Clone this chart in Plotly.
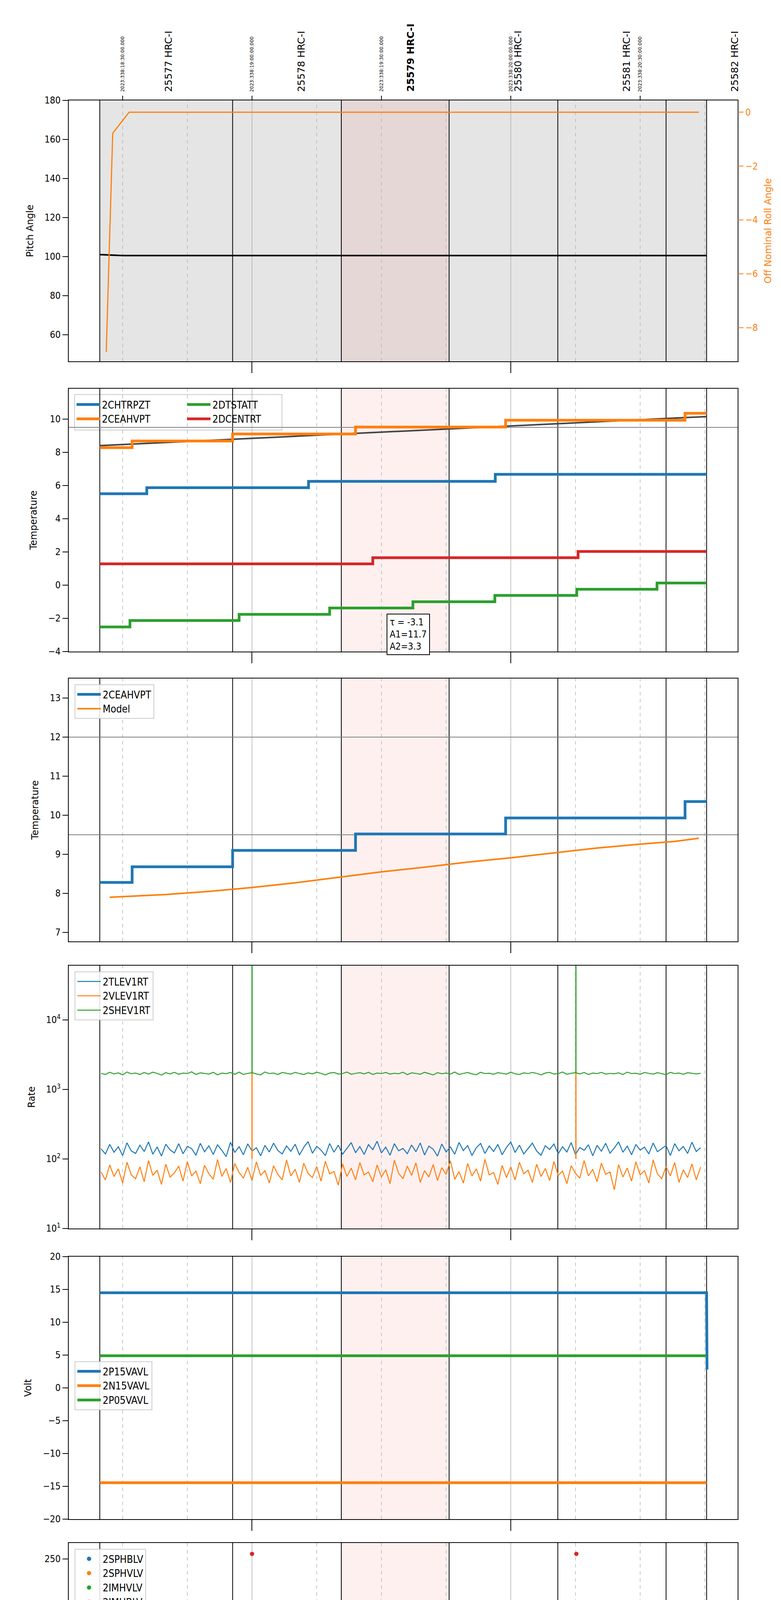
import plotly.graph_objects as go

# ---------------- data (time in minutes after 13:00 local) ----------------
OBS_BOUNDS = [24.7, 55.5, 80.7, 105.7, 130.9, 156.0, 165.4]
FOCUS = [80.7, 105.7]
HOUR_LINES = [60, 120]
QUARTER_LINES = [30, 45, 75, 90, 105, 135, 150, 165]
OBS_LABEL_T = [40.6, 71.4, 96.7, 121.6, 146.8, 171.9]
OBS_LABELS = ["25577 HRC-I", "25578 HRC-I", "25579 HRC-I", "25580 HRC-I", "25581 HRC-I", "25582 HRC-I"]
DATE_T = [30, 60, 90, 120, 150]
DATE_LABELS = ["2023:338:18:30:00.000", "2023:338:19:00:00.000", "2023:338:19:30:00.000",
               "2023:338:20:00:00.000", "2023:338:20:30:00.000"]
MIN_T = [30, 45, 75, 90, 105, 135, 150, 165]
MIN_LABELS = ["30", "45", "15", "30", "45", "15", "30", "45"]

PITCH_T = [24.7, 30, 60, 90, 120, 150, 165.4]
PITCH_V = [101.0, 100.5, 100.5, 100.6, 100.5, 100.5, 100.5]
ROLL_T = [26.2, 27.7, 31.5, 60, 90, 120, 150, 163.6]
ROLL_V = [-8.9, -0.78, 0.0, 0.0, 0.0, 0.0, 0.0, 0.0]

CHTRPZT_T = [24.7, 35.6, 73.1, 116.4, 165.4]
CHTRPZT_V = [5.5, 5.87, 6.25, 6.67, 6.67]
CEAHVPT_T = [24.7, 32.2, 55.5, 84.0, 118.8, 160.4, 165.4]
CEAHVPT_V = [8.28, 8.68, 9.1, 9.52, 9.93, 10.35, 10.35]
DTSTATT_T = [24.7, 31.7, 57.0, 78.0, 97.3, 116.3, 135.3, 153.9, 165.4]
DTSTATT_V = [-2.52, -2.13, -1.76, -1.38, -1.0, -0.62, -0.25, 0.13, 0.13]
DCENTRT_T = [24.7, 88.0, 135.6, 165.4]
DCENTRT_V = [1.28, 1.65, 2.03, 2.03]
TREND_T = [24.7, 165.4]
TREND_V = [8.4, 10.15]

MODEL_T = [27, 40, 50, 60, 70, 80, 90, 100, 110, 120, 130, 140, 150, 158, 163.6]
MODEL_V = [7.9, 7.97, 8.05, 8.15, 8.27, 8.41, 8.55, 8.67, 8.8, 8.91, 9.04, 9.16, 9.26, 9.33, 9.41]

TLEV = [140, 118, 162, 125, 150, 112, 171, 131, 120, 158, 128, 176, 117, 149, 110, 163, 135, 122, 166, 119,
        152, 141, 113, 168, 127, 155, 116, 160, 133, 108, 174, 124, 150, 115, 165, 130, 145, 111, 157, 126,
        169, 132, 118, 154, 129, 163, 114, 147, 178, 121, 152, 134, 112, 167, 125, 158, 117, 143, 172, 123,
        151, 116, 161, 136, 180, 122, 148, 113, 166, 131, 142, 119, 159, 127, 170, 114, 153, 138, 110, 164,
        126, 149, 117, 173, 132, 156, 112, 145, 167, 120, 154, 128, 162, 115, 147, 175, 124, 158, 118, 141,
        169, 130, 113, 155, 137, 164, 119, 150, 126, 172, 116, 146, 133, 160, 111, 157, 129, 168, 121, 144,
        176, 125, 153, 115, 162, 134, 148, 118, 170, 127, 141, 156, 112, 166, 131, 151, 120, 174, 128, 145]
VLEV = [65, 50, 82, 56, 72, 45, 90, 59, 52, 77, 47, 95, 58, 69, 43, 84, 55, 63, 79, 48,
        92, 57, 67, 44, 81, 61, 51, 98, 56, 73, 46, 86, 64, 53, 76, 49, 91, 58, 68, 45,
        80, 60, 50, 97, 57, 71, 46, 87, 62, 54, 78, 48, 93, 61, 66, 42, 85, 56, 74, 50,
        89, 59, 65, 47, 82, 55, 70, 44, 96, 62, 52, 79, 58, 88, 46, 68, 55, 83, 49, 75,
        60, 94, 51, 66, 45, 86, 57, 72, 48, 99, 59, 64, 43, 81, 54, 77, 50, 90, 61, 69,
        46, 84, 56, 73, 49, 92, 58, 67, 44, 80, 62, 53, 95, 57, 71, 47, 87, 60, 65, 36,
        83, 55, 74, 48, 91, 59, 68, 45, 97, 61, 52, 78, 57, 89, 46, 70, 54, 85, 50, 76]
SHEV = [1700, 1640, 1760, 1670, 1730, 1620, 1780, 1680, 1720, 1640, 1750, 1660, 1770, 1700, 1610, 1740, 1670, 1760, 1650, 1720,
        1690, 1790, 1640, 1730, 1700, 1660, 1760, 1620, 1720, 1680, 1750, 1650, 1770, 1640, 1700, 1740, 1670, 1620, 1780, 1690,
        1720, 1640, 1750, 1700, 1660, 1760, 1690, 1640, 1730, 1670, 1770, 1700, 1620, 1720, 1750, 1660, 1690, 1780, 1650, 1700,
        1740, 1670, 1760, 1640, 1720, 1690, 1750, 1660, 1710, 1680, 1770, 1630, 1730, 1700, 1650, 1760, 1690, 1620, 1740, 1680,
        1720, 1660, 1780, 1640, 1700, 1750, 1670, 1630, 1760, 1690, 1710, 1650, 1740, 1700, 1660, 1770, 1680, 1640, 1730, 1690,
        1750, 1700, 1620, 1720, 1760, 1660, 1690, 1780, 1650, 1710, 1740, 1670, 1750, 1640, 1720, 1690, 1760, 1660, 1700, 1680,
        1730, 1640, 1770, 1690, 1710, 1650, 1750, 1700, 1660, 1740, 1680, 1630, 1760, 1690, 1720, 1650, 1740, 1700, 1670, 1710]
RATE_T = [25 + i for i in range(len(TLEV))]
RATE_SPIKE_T = [60.0, 135.1]
SHEV_SPIKE_TOP = 60000
VLEV_SPIKE_TOP = 1700

P15_T = [24.7, 165.0, 165.4, 165.5]
P15_V = [14.5, 14.5, 14.5, 2.8]
N15_T = [24.7, 165.4]
N15_V = [-14.45, -14.45]
P05_T = [24.7, 165.4]
P05_V = [4.9, 4.9]

HV_T = [25 + i for i in range(141)]
HV_RED_LEVEL = 86.1
HV_GREEN_LEVEL = 79.3
HV_OUT_T = [60.0, 135.2]
HV_OUT_V = [255, 255]

SPINATM_T = [24.7, 66.8, 154.1, 165.4]
SPINATM_V = [4.1, 4.57, 5.05, 5.05]
SPHVATM_T = [24.7, 46.4, 73.9, 102.1, 134.6, 165.4]
SPHVATM_V = [16.7, 16.95, 17.25, 17.55, 17.82, 17.82]
IMINATM_T = [24.7, 67.5, 126.5, 165.4]
IMINATM_V = [1.9, 2.33, 2.77, 2.77]
IMHVATM_T = [24.7, 25.3, 32.7, 41.5, 52.2, 59.8, 60.0, 64.4, 79.5, 97.3, 120.4, 135.3, 135.5, 148.5, 165.4]
IMHVATM_V = [16.7, 16.9, 17.2, 17.5, 17.8, 0.0, 17.8, 18.1, 18.4, 18.68, 18.97, 0.0, 18.97, 19.25, 19.25]

FHTRMZT_T = [24.7, 30.2, 38.4, 47.9, 58.4, 68.7, 79.3, 90.5, 101.9, 114.0, 126.5, 139.0, 152.8, 165.4]
FHTRMZT_V = [-3.67, -3.27, -2.9, -2.5, -2.12, -1.75, -1.38, -1.0, -0.62, -0.25, 0.13, 0.5, 0.88, 0.88]
FRADPYT_T = [24.7, 26.0, 30.5, 36.8, 63.7, 79.0, 92.8, 107.0, 120.8, 134.9, 150.3, 165.4]
FRADPYT_V = [-4.05, -3.67, -4.05, -4.43, -4.05, -3.67, -3.28, -2.9, -2.5, -2.13, -1.75, -1.75]
FEPRATM_T = [24.7, 26.5, 32.3, 38.4, 46.1, 54.9, 65.0, 76.0, 88.2, 101.2, 114.9, 129.2, 144.8, 160.7, 165.4]
FEPRATM_V = [-1.42, -1.02, -0.6, -0.2, 0.2, 0.62, 1.05, 1.48, 1.93, 2.35, 2.8, 3.25, 3.68, 4.13, 4.13]
FE00ATM_T = [24.7, 25.9, 30.5, 36.6, 42.7, 42.9, 44.1, 51.8, 58.6, 59.8, 60.0, 62.2, 62.4, 67.7, 70.2, 70.4,
             75.8, 84.3, 86.1, 86.3, 87.4, 87.6, 88.0, 88.2, 93.2, 94.0, 94.2, 101.9, 111.8, 121.3, 123.5, 123.7,
             126.9, 127.1, 131.4, 135.0, 135.2, 140.7, 140.9, 141.0, 152.3, 162.5, 165.4]
FE00ATM_V = [-1.12, -0.8, -0.47, -0.15, 0.2, -0.15, 0.17, 0.48, 0.78, -6.0, 0.78, 0.1, 0.78, 1.1, 1.45, 1.1,
             1.43, 1.73, 1.35, 1.73, 0.75, 1.73, 2.05, 1.73, 2.05, 2.35, 2.05, 2.35, 2.65, 2.95, 2.6, 2.95,
             3.6, 2.95, 3.25, -6.0, 3.25, 3.55, 3.25, 3.55, 3.85, 4.12, 4.12]

# ---------------- layout helpers ----------------
W, H = 2000, 6200
ML, MR, MT, MB = 168, 119, 249, 106
PW, PH = W - ML - MR, H - MT - MB
PANELS = [(249, 917), (987, 1660), (1729, 2402), (2464, 3137), (3209, 3881), (3942, 4617), (4687, 5359), (5421, 6094)]
XR = [17.5, 172.6]


def py(p):
    return (H - MB - p) / PH


def pxx(p):
    return (p - ML) / PW


C = ["#1f77b4", "#ff7f0e", "#2ca02c", "#d62728"]
TICKFONT = dict(family="DejaVu Sans Condensed, DejaVu Sans", size=24, color="black")
TITLEFONT = dict(family="DejaVu Sans", size=24, color="black")
LEGFONT = dict(family="DejaVu Sans Condensed, DejaVu Sans", size=26, color="black")

fig = go.Figure()


def step(x, y, name, color, ax, leg, width=7, shape="hv", show=True):
    fig.add_trace(go.Scatter(x=x, y=y, mode="lines", name=name, line=dict(color=color, width=width, shape=shape),
                             xaxis="x" + ("" if ax == 1 else str(ax)), yaxis="y" + ("" if ax == 1 else str(ax)),
                             legend=leg, showlegend=show))


# panel 1
fig.add_trace(go.Scatter(x=PITCH_T, y=PITCH_V, mode="lines", line=dict(color="black", width=4), showlegend=False,
                         xaxis="x", yaxis="y"))
fig.add_trace(go.Scatter(x=ROLL_T, y=ROLL_V, mode="lines", line=dict(color=C[1], width=3), showlegend=False,
                         xaxis="x", yaxis="y9"))
# panel 2
fig.add_trace(go.Scatter(x=TREND_T, y=TREND_V, mode="lines", line=dict(color="#444444", width=4), showlegend=False,
                         xaxis="x2", yaxis="y2"))
step(CHTRPZT_T, CHTRPZT_V, "2CHTRPZT", C[0], 2, "legend2")
step(CEAHVPT_T, CEAHVPT_V, "2CEAHVPT", C[1], 2, "legend2")
step(DTSTATT_T, DTSTATT_V, "2DTSTATT", C[2], 2, "legend9")
step(DCENTRT_T, DCENTRT_V, "2DCENTRT", C[3], 2, "legend9")
# panel 3
step(CEAHVPT_T, CEAHVPT_V, "2CEAHVPT", C[0], 3, "legend3")
step(MODEL_T, MODEL_V, "Model", C[1], 3, "legend3", width=4, shape="linear")
# panel 4
step(RATE_T, TLEV, "2TLEV1RT", C[0], 4, "legend4", width=2.5, shape="linear")
step(RATE_T, VLEV, "2VLEV1RT", C[1], 4, "legend4", width=2.5, shape="linear")
step(RATE_T, SHEV, "2SHEV1RT", C[2], 4, "legend4", width=2.5, shape="linear")
for t in RATE_SPIKE_T:
    step([t, t], [100, VLEV_SPIKE_TOP], "spike", C[1], 4, "legend4", width=3, shape="linear", show=False)
    step([t, t], [1700, SHEV_SPIKE_TOP], "spike", C[2], 4, "legend4", width=3, shape="linear", show=False)
# panel 5
step(P15_T, P15_V, "2P15VAVL", C[0], 5, "legend5", shape="linear")
step(N15_T, N15_V, "2N15VAVL", C[1], 5, "legend5")
step(P05_T, P05_V, "2P05VAVL", C[2], 5, "legend5")
# panel 6
hv_sets = [("2SPHBLV", C[0], HV_GREEN_LEVEL, [], []), ("2SPHVLV", C[1], HV_RED_LEVEL, [], []),
           ("2IMHVLV", C[2], HV_GREEN_LEVEL, [], []), ("2IMHBLV", C[3], HV_RED_LEVEL, HV_OUT_T, HV_OUT_V)]
for name, col, lvl, ot, ov in hv_sets:
    fig.add_trace(go.Scatter(x=HV_T + ot, y=[lvl] * len(HV_T) + ov, mode="markers", name=name,
                             marker=dict(color=col, size=11), xaxis="x6", yaxis="y6", legend="legend6"))
# panel 7
step(SPINATM_T, SPINATM_V, "2SPINATM", C[0], 7, "legend7")
step(SPHVATM_T, SPHVATM_V, "2SPHVATM", C[1], 7, "legend7")
step(IMINATM_T, IMINATM_V, "2IMINATM", C[2], 7, "legend7")
step(IMHVATM_T, IMHVATM_V, "2IMHVATM", C[3], 7, "legend7")
# panel 8
step(FHTRMZT_T, FHTRMZT_V, "2FHTRMZT", C[0], 8, "legend8")
step(FRADPYT_T, FRADPYT_V, "2FRADPYT", C[1], 8, "legend8")
step(FEPRATM_T, FEPRATM_V, "2FEPRATM", C[2], 8, "legend8")
step(FE00ATM_T, FE00ATM_V, "2FE00ATM", C[3], 8, "legend8")

layout = dict(width=W, height=H, margin=dict(l=ML, r=MR, t=MT, b=MB), plot_bgcolor="white", paper_bgcolor="white",
              font=TITLEFONT, showlegend=True)

YCFG = [
    dict(range=[46.3, 180], tickvals=[60, 80, 100, 120, 140, 160, 180], title="Pitch Angle"),
    dict(range=[-4, 11.83], tickvals=[-4, -2, 0, 2, 4, 6, 8, 10], title="Temperature"),
    dict(range=[6.77, 13.5], tickvals=[7, 8, 9, 10, 11, 12, 13], title="Temperature"),
    dict(type="log", range=[1, 4.78], tickvals=[10, 100, 1000, 10000],
         ticktext=["10<sup>1</sup>", "10<sup>2</sup>", "10<sup>3</sup>", "10<sup>4</sup>"], title="Rate"),
    dict(range=[-20, 20], tickvals=[-20, -15, -10, -5, 0, 5, 10, 15, 20], title="Volt"),
    dict(range=[0, 266], tickvals=[0, 50, 100, 150, 200, 250], title="HV Monitor"),
    dict(range=[0.4, 20.43], tickvals=[2.5, 5, 7.5, 10, 12.5, 15, 17.5, 20], tickformat=".1f", title="Detector Temp"),
    dict(range=[-5.54, 4.75], tickvals=[-4, -2, 0, 2, 4], title="FEA Temp"),
]

for i, (top, bot) in enumerate(PANELS):
    n = i + 1
    sx = "" if n == 1 else str(n)
    xa = dict(domain=[0, 1], range=XR, anchor="y" + sx, showgrid=False, zeroline=False, showline=True,
              linecolor="black", linewidth=2, mirror=True, ticks="outside", ticklen=28, tickwidth=2,
              tickcolor="black", tickvals=HOUR_LINES, showticklabels=(n == 8), ticktext=["14h", "15h"],
              tickfont=dict(family="DejaVu Sans Condensed, DejaVu Sans", size=32, color="black"))
    if n > 1:
        xa["matches"] = "x"
    layout["xaxis" + sx] = xa
    yc = YCFG[i]
    ya = dict(domain=[py(bot), py(top)], anchor="x" + sx, showgrid=False, zeroline=False, showline=True,
              linecolor="black", linewidth=2, mirror=True, ticks="outside", ticklen=14, tickwidth=2,
              tickcolor="black", tickfont=TICKFONT,
              title=dict(text=yc["title"], font=TITLEFONT, standoff=22))
    for k in ("range", "tickvals", "ticktext", "type", "tickformat"):
        if k in yc:
            ya[k] = yc[k]
    layout["yaxis" + sx] = ya

layout["yaxis9"] = dict(overlaying="y", side="right", anchor="x", range=[-9.25, 0.44], tickvals=[-8, -6, -4, -2, 0],
                        showgrid=False, zeroline=False, ticks="outside", ticklen=14, tickwidth=2, tickcolor=C[1],
                        tickfont=dict(family="DejaVu Sans Condensed, DejaVu Sans", size=24, color=C[1]),
                        title=dict(text="Off Nominal Roll Angle", font=dict(family="DejaVu Sans", size=24, color=C[1]),
                                   standoff=18))


def leg(x0, ytop, **kw):
    d = dict(x=pxx(x0), y=py(ytop), xanchor="left", yanchor="top", font=LEGFONT, bgcolor="rgba(255,255,255,0.85)",
             bordercolor="#cccccc", borderwidth=2, tracegroupgap=0, itemwidth=60)
    d.update(kw)
    return d


layout["legend2"] = leg(183, 1004, bgcolor="rgba(0,0,0,0)", borderwidth=0)
layout["legend9"] = leg(466, 1004, bgcolor="rgba(0,0,0,0)", borderwidth=0)
layout["legend3"] = leg(183, 1744)
layout["legend4"] = leg(183, 2479)
layout["legend5"] = leg(183, 3477)
layout["legend6"] = leg(183, 3957)
layout["legend7"] = leg(183, 4935)
layout["legend8"] = leg(183, 5434)

fig.update_layout(**layout)

shapes = []
shapes.append(dict(type="rect", xref="paper", yref="paper", x0=pxx(183), x1=pxx(714), y0=py(1093), y1=py(1002),
                   line=dict(color="#cccccc", width=2), fillcolor="rgba(255,255,255,0.85)", layer="below"))
for i in range(8):
    n = i + 1
    sx = "" if n == 1 else str(n)
    xr, yr = "x" + sx, "y" + sx + " domain"
    if n == 1:
        shapes.append(dict(type="rect", xref=xr, yref=yr, x0=OBS_BOUNDS[0], x1=OBS_BOUNDS[-1], y0=0, y1=1,
                           fillcolor="#e5e5e5", line=dict(width=0), layer="below"))
    shapes.append(dict(type="rect", xref=xr, yref=yr, x0=FOCUS[0], x1=FOCUS[1], y0=0, y1=1,
                       fillcolor="rgba(255,0,0,0.06)", line=dict(width=0), layer="below"))
    for t in QUARTER_LINES:
        shapes.append(dict(type="line", xref=xr, yref=yr, x0=t, x1=t, y0=0, y1=1,
                           line=dict(color="#b5b5b5", width=1.5, dash="dash"), layer="below"))
    for t in HOUR_LINES:
        shapes.append(dict(type="line", xref=xr, yref=yr, x0=t, x1=t, y0=0, y1=1,
                           line=dict(color="#b0b0b0", width=1.5), layer="below"))
    for t in OBS_BOUNDS:
        shapes.append(dict(type="line", xref=xr, yref=yr, x0=t, x1=t, y0=0, y1=1,
                           line=dict(color="black", width=2), layer="below"))
    if n in (2, 3):
        for v in ([9.5] if n == 2 else [9.5, 12]):
            shapes.append(dict(type="line", xref=xr + " domain", yref="y" + sx, x0=0, x1=1, y0=v, y1=v,
                               line=dict(color="#808080", width=2), layer="below"))
for t in DATE_T:
    shapes.append(dict(type="line", xref="x", yref="paper", x0=t, x1=t, y0=py(249), y1=py(237),
                       line=dict(color="black", width=2)))

ann = []
for t, s in zip(DATE_T, DATE_LABELS):
    ann.append(dict(x=t, y=py(229), xref="x", yref="paper", text=s, textangle=-90, showarrow=False,
                    xanchor="center", yanchor="bottom", font=dict(family="DejaVu Sans", size=12, color="black")))
for t, s in zip(OBS_LABEL_T, OBS_LABELS):
    txt = "<b>" + s + "</b>" if s.startswith("25579") else s
    ann.append(dict(x=t, y=py(229), xref="x", yref="paper", text=txt, textangle=-90, showarrow=False,
                    xanchor="center", yanchor="bottom", font=dict(family="DejaVu Sans", size=25, color="black")))
for t, s in zip(MIN_T, MIN_LABELS):
    ann.append(dict(x=t, y=py(6098), xref="x", yref="paper", text=s, showarrow=False, xanchor="center",
                    yanchor="top", font=dict(family="DejaVu Sans Condensed, DejaVu Sans", size=18, color="black")))
ann.append(dict(x=0.5, y=py(6160), xref="paper", yref="paper", text="2023-12-04 (338)", showarrow=False,
                xanchor="center", yanchor="middle",
                font=dict(family="DejaVu Sans Condensed, DejaVu Sans", size=34, color="black")))
ann.append(dict(x=91.2, y=-1.72, xref="x2", yref="y2", text="τ = -3.1<br>A1=11.7<br>A2=3.3", showarrow=False,
                xanchor="left", yanchor="top", align="left", bgcolor="white", bordercolor="black", borderwidth=2,
                borderpad=6, font=dict(family="DejaVu Sans Condensed, DejaVu Sans", size=24, color="black")))

fig.update_layout(shapes=shapes, annotations=ann)
fig.update_xaxes(ticklabelstandoff=14, selector=dict(anchor="y8"))
fig.write_html("out.html")
